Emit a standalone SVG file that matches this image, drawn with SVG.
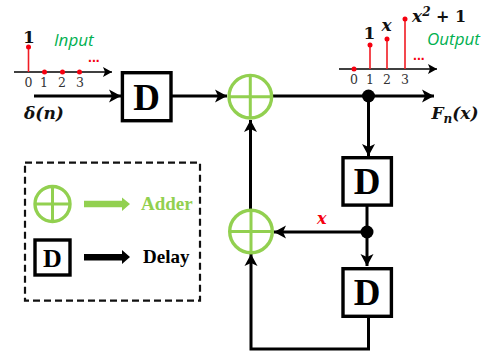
<svg xmlns="http://www.w3.org/2000/svg" width="492" height="352" viewBox="0 0 492 352">
<style>
.l{fill:none;stroke:#000;stroke-width:3}
.ax{fill:none;stroke:#000;stroke-width:1.6}
.st{stroke:#f01c24;stroke-width:1.6}
.pt{fill:#f5000f}
.box{fill:#fff;stroke:#000;stroke-width:3.4}
.add{fill:#fff;stroke:#92d050;stroke-width:3.4}
.addl{stroke:#92d050;stroke-width:3}
.D{font:bold 37px "Liberation Serif",serif;text-anchor:middle;fill:#000}
.tk{font:12.5px "DejaVu Serif",serif;text-anchor:middle;fill:#333}
.m{font:italic bold 17px "DejaVu Serif",serif;fill:#111}
.o{font:bold 17px "DejaVu Serif",serif;fill:#111}
.g{font:italic 17px "Open Sans",sans-serif;fill:#00b050}
.dots{font:bold 14px "Liberation Sans",sans-serif;fill:#f5000f}
</style>
<defs>
<marker id="a" markerUnits="userSpaceOnUse" markerWidth="14" markerHeight="16" refX="12" refY="7" orient="auto">
<path d="M0 0.500L12 7L0 13.500L3 7Z" fill="#000"/>
</marker>
<marker id="s" markerUnits="userSpaceOnUse" markerWidth="10" markerHeight="12" refX="9" refY="5" orient="auto">
<path d="M0 0L9 5L0 10L2 5Z" fill="#000"/>
</marker>
</defs>
<g id="input-plot">
<path class="ax" d="M14 72H112" marker-end="url(#s)"/>
<path class="st" d="M28.500 47V72"/>
<circle class="pt" cx="28.500" cy="47" r="2.500"/><circle class="pt" cx="44.500" cy="72" r="2.500"/><circle class="pt" cx="62.500" cy="72" r="2.500"/><circle class="pt" cx="79.500" cy="72" r="2.500"/>
<text class="o" x="29" y="42.500" text-anchor="middle">1</text>
<text class="g" x="54" y="46">Input</text>
<text class="dots" x="88" y="62">...</text>
<text class="tk" x="28.500" y="87">0</text><text class="tk" x="44" y="87">1</text><text class="tk" x="62" y="87">2</text><text class="tk" x="80" y="87">3</text>
<text class="m" x="24" y="119">δ(n)</text>
</g>
<g id="output-plot">
<path class="ax" d="M339 69H437" marker-end="url(#s)"/>
<path class="st" d="M370 45V69M387 39V69M405 19V69"/>
<circle class="pt" cx="354" cy="69" r="2.500"/><circle class="pt" cx="370" cy="45" r="2.500"/><circle class="pt" cx="387" cy="39" r="2.500"/><circle class="pt" cx="405" cy="19" r="2.500"/>
<text class="o" x="369.500" y="39" text-anchor="middle">1</text>
<text class="m" x="386.500" y="31" text-anchor="middle">x</text>
<text class="m" x="412" y="22">x<tspan font-size="12" dy="-6">2</tspan><tspan font-style="normal" font-size="16" dy="6"> + 1</tspan></text>
<text class="g" x="427" y="45">Output</text>
<text class="dots" x="413" y="60">...</text>
<text class="tk" x="354" y="84">0</text><text class="tk" x="370" y="84">1</text><text class="tk" x="387" y="84">2</text><text class="tk" x="405" y="84">3</text>
<text class="m" x="431.500" y="119">F<tspan font-size="12" dy="4">n</tspan><tspan dy="-4">(x)</tspan></text>
</g>
<g id="connectors">
<path class="l" d="M34 96H121" marker-end="url(#a)"/>
<path class="l" d="M172 96H227" marker-end="url(#a)"/>
<path class="l" d="M272 96H434" marker-end="url(#a)"/>
<path class="l" d="M368.500 96V156" marker-end="url(#a)"/>
<path class="l" d="M367 206V266" marker-end="url(#a)"/>
<path class="l" d="M367 232H274" marker-end="url(#a)"/>
<path class="l" d="M250.500 210V120" marker-end="url(#a)"/>
<path class="l" d="M368.500 318V349H251V254" marker-end="url(#a)"/>
<circle cx="368.500" cy="96" r="6.500"/>
<circle cx="367" cy="232" r="6.500"/>
</g>
<g id="delay-1"><rect class="box" x="122.400" y="72.700" width="48.600" height="48"/><text class="D" x="146.700" y="110">D</text></g>
<g id="delay-2"><rect class="box" x="343" y="157.700" width="48.400" height="47.400"/><text class="D" x="367.200" y="194">D</text></g>
<g id="delay-3"><rect class="box" x="343" y="268.700" width="48.400" height="47.600"/><text class="D" x="367.200" y="305">D</text></g>
<g id="adder-1"><circle class="add" cx="250.300" cy="96.700" r="21.300"/><path class="addl" d="M229 96.700H271.600M250.300 75.400V118"/></g>
<g id="adder-2"><circle class="add" cx="251" cy="231.500" r="21.300"/><path class="addl" d="M229.700 231.500H272.300M251 210.200V252.800"/></g>
<text id="label-x" x="317" y="224" style="font:italic bold 16px 'DejaVu Serif',serif;fill:#f5000f">x</text>
<g id="legend">
<rect x="25" y="162.700" width="175" height="138" fill="none" stroke="#111" stroke-width="2.200" stroke-dasharray="7 4"/>
<circle class="add" cx="52.500" cy="204" r="17.500"/><path class="addl" d="M35 204H70M52.500 186.500V221.500"/>
<path d="M84 200.700H122V197.500L130 204L122 211V207.300H84Z" fill="#92d050"/>
<text x="141" y="209.500" style="font:bold 19px 'Liberation Serif',serif;fill:#92d050">Adder</text>
<rect x="35" y="240" width="35" height="35" fill="#fff" stroke="#000" stroke-width="3.400"/>
<text x="52.500" y="267" style="font:bold 26px 'Liberation Serif',serif;fill:#000" text-anchor="middle">D</text>
<path d="M84 254H122V250L130 257L122 264V260.500H84Z" fill="#000"/>
<text x="143" y="263" style="font:bold 19px 'Liberation Serif',serif;fill:#000">Delay</text>
</g>
</svg>
